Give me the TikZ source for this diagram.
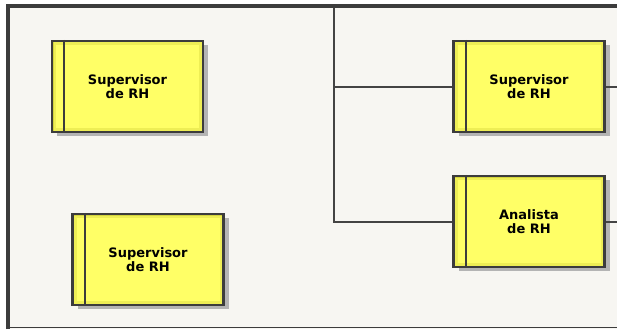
\documentclass[tikz,border=0pt]{standalone}
\usepackage{fontspec}
\setmainfont{DejaVu Sans}
\usetikzlibrary{shadows}
\definecolor{bgc}{HTML}{F7F6F2}
\definecolor{framec}{HTML}{3C3C3C}
\definecolor{linec}{HTML}{444444}
\definecolor{yel}{HTML}{FFFF66}
\definecolor{yeldark}{HTML}{D4D43C}
\definecolor{yelmid}{HTML}{EEEE55}
\definecolor{shadc}{HTML}{B4B4B4}
\tikzset{
  rolebox/.style={draw=framec, line width=2.4pt, minimum width=151pt, minimum height=91pt,
    inner sep=0pt, align=center, font=\bfseries\fontsize{13pt}{14.5pt}\selectfont,
    fill=yeldark,
    drop shadow={shadow xshift=5pt, shadow yshift=-4pt, fill=shadc, opacity=1},
    path picture={
      \fill[yelmid] ([shift={(1.5pt,1.5pt)}]path picture bounding box.south west) rectangle ([shift={(-1.5pt,-1.5pt)}]path picture bounding box.north east);
      \fill[yel] ([shift={(4pt,4pt)}]path picture bounding box.south west) rectangle ([shift={(-4pt,-4pt)}]path picture bounding box.north east);
    }},
  conn/.style={draw=linec, line width=2pt},
  strip/.style={draw=framec, line width=2.2pt}
}
\begin{document}
\begin{tikzpicture}[x=1pt,y=-1pt]
\useasboundingbox (0,0) rectangle (617,329);
\fill[white] (0,0) rectangle (617,329);
\fill[bgc] (8,6) rectangle (617,329);
\draw[framec, line width=4pt] (8,329) -- (8,6) -- (617,6);
\draw[framec, line width=1.8pt] (8,327.5) -- (617,327.5);

\coordinate (top) at (334,8);
\coordinate (redge) at (617,0);

\node[rolebox] (b1) at (127.5,86.5) {Supervisor\\de RH};
\node[rolebox] (b2) at (529,86.5) {Supervisor\\de RH};
\node[rolebox] (b3) at (148,259.5) {Supervisor\\de RH};
\node[rolebox] (b4) at (529,221.5) {Analista\\de RH};

\foreach \b in {b1,b2,b3,b4}{
  \draw[strip] ([xshift=13.5pt]\b.north west) -- ([xshift=13.5pt]\b.south west);
}

\draw[conn] (top) |- (b4.west);
\draw[conn] (top |- b2.west) -- (b2.west);
\draw[conn] (b2.east) -- (b2.east -| redge);
\draw[conn] (b4.east) -- (b4.east -| redge);
\end{tikzpicture}
\end{document}
